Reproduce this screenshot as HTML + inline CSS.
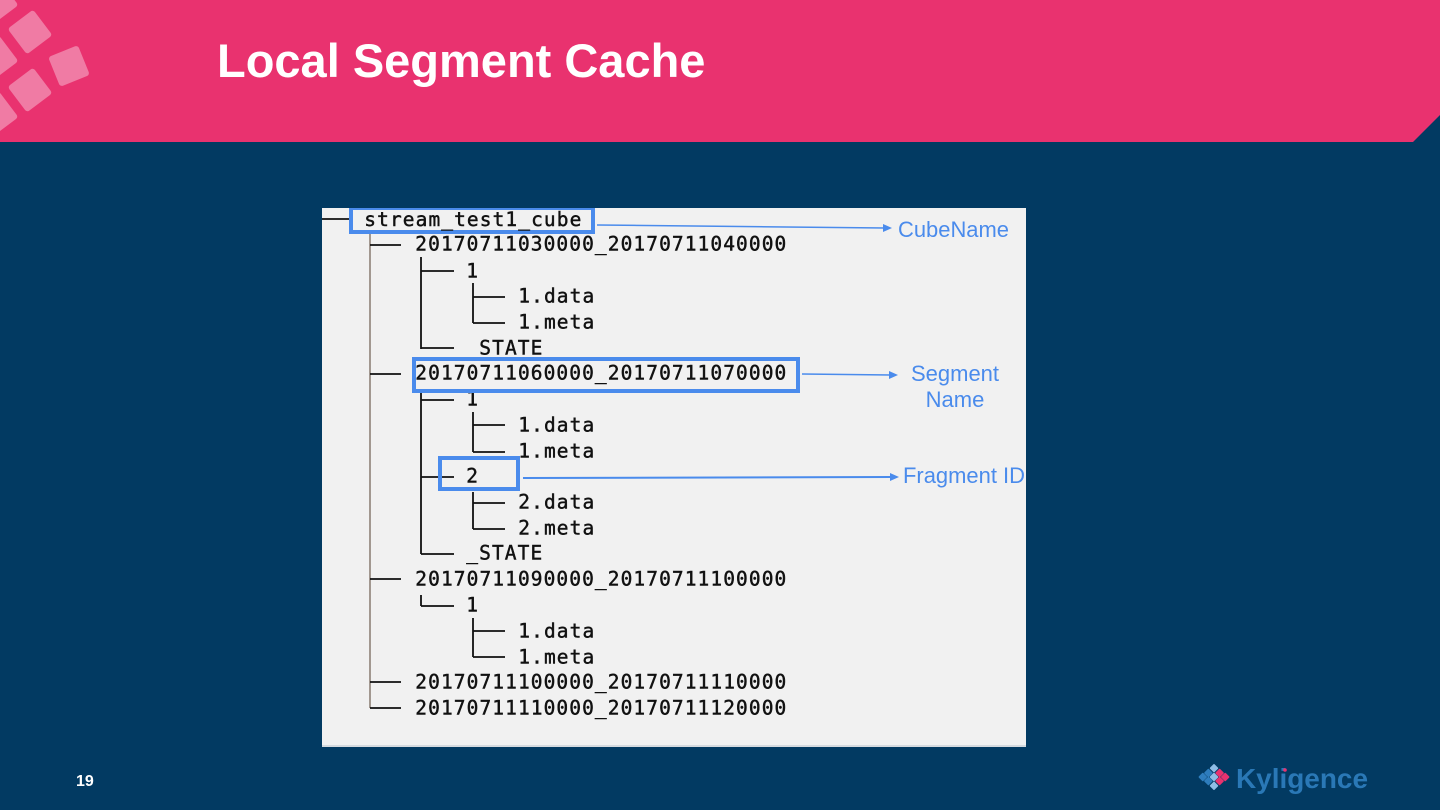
<!DOCTYPE html>
<html>
<head>
<meta charset="utf-8">
<title>Local Segment Cache</title>
<style>
html,body{margin:0;padding:0;width:1440px;height:810px;overflow:hidden;background:#023A62}
svg{display:block}
.t{font-family:"DejaVu Sans Mono","Liberation Mono",monospace;font-size:19.5px;fill:#111;stroke:#111;stroke-width:.45px;letter-spacing:1.09px;font-weight:400}
.l{font-family:"Liberation Sans",sans-serif;font-size:22px;fill:#4A8BEC}
</style>
</head>
<body>
<svg width="1440" height="810" viewBox="0 0 1440 810" xmlns="http://www.w3.org/2000/svg">
<rect width="1440" height="810" fill="#023A62"/>
<polygon points="0,0 1440,0 1440,115 1413,142 0,142" fill="#E9326F"/>
<g fill="#F07BA4">
<rect x="14" y="16" width="32" height="32" rx="3" transform="rotate(-37 30 32)"/>
<rect x="53" y="50" width="32" height="32" rx="3" transform="rotate(-22 69 66)"/>
<rect x="14" y="74" width="32" height="32" rx="3" transform="rotate(-37 30 90)"/>
<rect x="-20" y="42" width="32" height="32" rx="3" transform="rotate(-37 -4 58)"/>
<rect x="-20" y="98" width="32" height="32" rx="3" transform="rotate(-37 -4 114)"/>
<rect x="-20" y="-14" width="32" height="32" rx="3" transform="rotate(-37 -4 2)"/>
</g>
<text x="217" y="77" font-family="'Liberation Sans',sans-serif" font-weight="700" font-size="47" fill="#fff">Local Segment Cache</text>

<g style="filter:blur(0.35px)">
<rect x="322" y="208" width="704" height="538" fill="#F1F1F1"/>
<rect x="322" y="745" width="704" height="2" fill="#D5DADF"/>

<g stroke="#111" stroke-width="1.8" fill="none">
<path d="M322 219H349"/>
<path d="M370 232V708" stroke="#9A8F85"/>
<path d="M370 245H401M370 374H401M370 579H401M370 682H401M370 708H401"/>
<path d="M421 257V349M421 271H454M421 348H454"/>
<path d="M473 283V323M473 297H505M473 323H505"/>
<path d="M421 390V554M421 400H454M421 477H454M421 554H454"/>
<path d="M473 412V452M473 425H505M473 452H505"/>
<path d="M473 492V529M473 503H505M473 529H505"/>
<path d="M421 595V606M421 606H454"/>
<path d="M473 618V657M473 631H505M473 657H505"/>
</g>

<g transform="translate(0.3 -0.5)">
<text class="t" x="415" y="251">20170711030000_20170711040000</text>
<text class="t" x="466" y="278">1</text>
<text class="t" x="518" y="303">1.data</text>
<text class="t" x="518" y="329">1.meta</text>
<text class="t" x="479" y="355">STATE</text>
<text class="t" x="415" y="380">20170711060000_20170711070000</text>
<text class="t" x="466" y="406">1</text>
<text class="t" x="518" y="432">1.data</text>
<text class="t" x="518" y="458">1.meta</text>
<text class="t" x="466" y="483">2</text>
<text class="t" x="518" y="509">2.data</text>
<text class="t" x="518" y="535">2.meta</text>
<text class="t" x="466" y="560">_STATE</text>
<text class="t" x="415" y="586">20170711090000_20170711100000</text>
<text class="t" x="466" y="612">1</text>
<text class="t" x="518" y="638">1.data</text>
<text class="t" x="518" y="664">1.meta</text>
<text class="t" x="415" y="689">20170711100000_20170711110000</text>
<text class="t" x="415" y="715">20170711110000_20170711120000</text>
</g>

<g fill="none" stroke="#4A8BEC" stroke-width="4">
<path d="M351 208V232H593V208"/>
<rect x="414" y="359" width="384" height="32"/>
<rect x="440" y="458" width="78" height="31"/>
</g>
<rect x="349" y="208" width="246" height="2" fill="#4A8BEC"/>
<text class="t" x="364.3" y="226">stream_test1_cube</text>

<g stroke="#4A8BEC" stroke-width="1.5" fill="none">
<path d="M597 225L885 228"/>
<path d="M802 374L891 375"/>
<path d="M523 478L891 477" stroke-width="2"/>
</g>
<g fill="#4A8BEC">
<polygon points="892,228 883,224 883,232"/>
<polygon points="898,375 889,371 889,379"/>
<polygon points="899,477 890,473 890,481"/>
</g>

<text class="l" x="898" y="237" textLength="111" lengthAdjust="spacingAndGlyphs">CubeName</text>
<text class="l" x="955" y="381" text-anchor="middle">Segment</text>
<text class="l" x="955" y="407" text-anchor="middle">Name</text>
<text class="l" x="903" y="483" textLength="122" lengthAdjust="spacingAndGlyphs">Fragment ID</text>
</g>

<text x="76" y="786" font-family="'Liberation Sans',sans-serif" font-weight="700" font-size="16" fill="#fff">19</text>

<g transform="translate(1214 777) scale(.8)">
<rect x="-4" y="-15" width="8" height="8" rx="1" fill="#8FBDE6" transform="rotate(45 0 -11)"/>
<rect x="-11" y="-9" width="8" height="8" rx="1" fill="#2E7DBD" transform="rotate(45 -7 -5)"/>
<rect x="-4" y="-4" width="8" height="8" rx="1" fill="#8FBDE6" transform="rotate(45 0 0)"/>
<rect x="-18" y="-4" width="8" height="8" rx="1" fill="#2E7DBD" transform="rotate(45 -14 0)"/>
<rect x="-11" y="1" width="8" height="8" rx="1" fill="#2E7DBD" transform="rotate(45 -7 5)"/>
<rect x="-4" y="7" width="8" height="8" rx="1" fill="#8FBDE6" transform="rotate(45 0 11)"/>
<rect x="3" y="-9" width="8" height="8" rx="1" fill="#E9326F" transform="rotate(45 7 -5)"/>
<rect x="3" y="1" width="8" height="8" rx="1" fill="#E9326F" transform="rotate(45 7 5)"/>
<rect x="10" y="-4" width="8" height="8" rx="1" fill="#E9326F" transform="rotate(45 14 0)"/>
</g>
<text x="1236" y="788" font-family="'Liberation Sans',sans-serif" font-weight="700" font-size="28" fill="#2A78B6" textLength="132" lengthAdjust="spacingAndGlyphs">Kyligence</text>
<circle cx="1285" cy="770" r="1.8" fill="#E9326F"/>
</svg>
</body>
</html>
